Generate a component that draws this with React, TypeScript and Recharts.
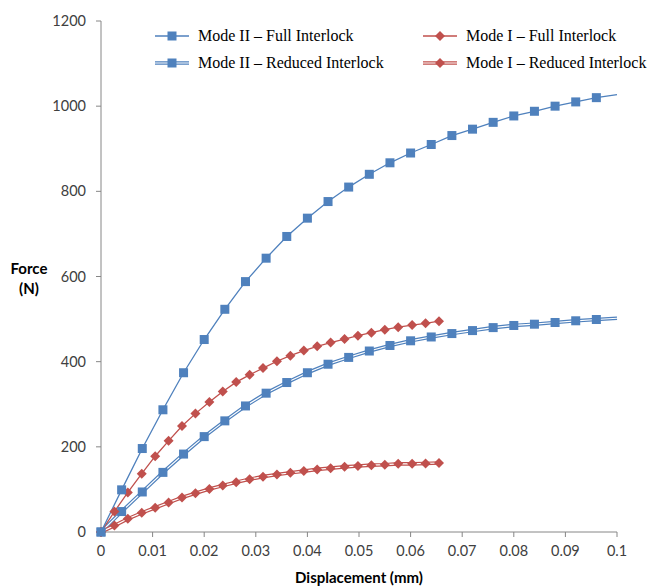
import { LineChart, Line, XAxis, YAxis, Legend } from "recharts";

// x values (mm)
const xMode2 = [
  0, 0.004, 0.008, 0.012, 0.016, 0.02, 0.024, 0.028, 0.032, 0.036, 0.04, 0.044, 0.048,
  0.052, 0.056, 0.06, 0.064, 0.068, 0.072, 0.076, 0.08, 0.084, 0.088, 0.092, 0.096, 0.1,
];
const xMode1 = [
  0, 0.0026, 0.0052, 0.0079, 0.0105, 0.0131, 0.0157, 0.0183, 0.021, 0.0236, 0.0262,
  0.0288, 0.0314, 0.0341, 0.0367, 0.0393, 0.0419, 0.0445, 0.0472, 0.0498, 0.0524, 0.055,
  0.0576, 0.0603, 0.0629, 0.0655,
];

// force (N)
const mode2Full = [
  0, 99, 196, 287, 374, 452, 523, 588, 643, 694, 737, 776, 810, 840, 867, 890, 910, 931,
  946, 962, 977, 988, 1000, 1010, 1020, 1027,
];
const mode2Reduced = [
  0, 48, 94, 140, 183, 224, 261, 296, 326, 351, 374, 394, 410, 425, 438, 449, 458, 466,
  473, 480, 485, 488, 492, 496, 499, 502,
];
const mode1Full = [
  0, 48, 93, 137, 178, 214, 249, 278, 305, 330, 352, 369, 385, 401, 414, 426, 436, 445,
  453, 461, 468, 475, 481, 486, 490, 495,
];
const mode1Reduced = [
  0, 15, 31, 45, 57, 69, 81, 91, 101, 109, 117, 124, 130, 135, 139, 143, 147, 150, 153,
  155, 157, 158, 160, 160, 161, 162,
];

const xTicks = [0, 0.01, 0.02, 0.03, 0.04, 0.05, 0.06, 0.07, 0.08, 0.09, 0.1];
const yTicks = [0, 200, 400, 600, 800, 1000, 1200];

const BLUE = "#4F81BD";
const RED = "#C0504D";
const AXIS = "#868686";
const TICK_FONT = "Lato, 'Open Sans', sans-serif";
const SERIF = "'Liberation Serif', 'DejaVu Serif', serif";

const toRows = (xs: number[], ys: number[]) => xs.map((x, i) => ({ x, y: ys[i] }));

const m2Full = toRows(xMode2, mode2Full);
const m2Red = toRows(xMode2, mode2Reduced);
const m1Full = toRows(xMode1, mode1Full);
const m1Red = toRows(xMode1, mode1Reduced);

function Square({ cx, cy, color }: { cx: number; cy: number; color: string }) {
  return <rect x={cx - 4.5} y={cy - 4.5} width={9} height={9} fill={color} />;
}

function Diamond({ cx, cy, color }: { cx: number; cy: number; color: string }) {
  const r = 5;
  return (
    <path d={`M${cx},${cy - r}L${cx + r},${cy}L${cx},${cy + r}L${cx - r},${cy}Z`} fill={color} />
  );
}

// blue series have no marker on the 0.1 end point
const squareDot = (props: any) => {
  const { cx, cy, index, payload } = props;
  if (cx == null || cy == null || payload.x >= 0.1) return <g key={index} />;
  return <Square key={index} cx={cx} cy={cy} color={BLUE} />;
};
const diamondDot = (props: any) => {
  const { cx, cy, index } = props;
  if (cx == null || cy == null) return <g key={index} />;
  return <Diamond key={index} cx={cx} cy={cy} color={RED} />;
};

function LegendIcon({ x, y, color, double, square }: any) {
  return (
    <g>
      {double ? (
        <>
          <line x1={x} x2={x + 34} y1={y} y2={y} stroke={color} strokeWidth={3.6} />
          <line x1={x} x2={x + 34} y1={y} y2={y} stroke="#fff" strokeWidth={1.2} />
        </>
      ) : (
        <line x1={x} x2={x + 34} y1={y} y2={y} stroke={color} strokeWidth={1.3} />
      )}
      {square ? (
        <Square cx={x + 17} cy={y} color={color} />
      ) : (
        <Diamond cx={x + 17} cy={y} color={color} />
      )}
    </g>
  );
}

function renderLegend() {
  const items = [
    { x: 155, y: 36, color: BLUE, double: false, square: true, label: "Mode II – Full Interlock" },
    { x: 155, y: 63, color: BLUE, double: true, square: true, label: "Mode II – Reduced Interlock" },
    { x: 423, y: 36, color: RED, double: false, square: false, label: "Mode I – Full Interlock" },
    { x: 423, y: 63, color: RED, double: true, square: false, label: "Mode I – Reduced Interlock" },
  ];
  return (
    <svg width={647} height={80} style={{ display: "block" }}>
      {items.map((it) => (
        <g key={it.label}>
          <LegendIcon {...it} />
          <text x={it.x + 43} y={it.y + 5} fontFamily={SERIF} fontSize={16} fill="#000">
            {it.label}
          </text>
        </g>
      ))}
    </svg>
  );
}

function ForceLabel(props: any) {
  const { viewBox } = props;
  const cy = viewBox.y + viewBox.height / 2;
  return (
    <text x={29} y={cy} textAnchor="middle" fontFamily={TICK_FONT} fontWeight={700} fontSize={15} fill="#000">
      <tspan x={29} dy={-3}>Force</tspan>
      <tspan x={29} dy={20}>(N)</tspan>
    </text>
  );
}

export default function App() {
  return (
    <div style={{ position: "absolute", left: 0, top: 0, background: "#fff" }}>
      <LineChart width={647} height={586} margin={{ top: 21, right: 30, bottom: 0, left: 0 }}>
        <XAxis
          type="number"
          dataKey="x"
          domain={[0, 0.1]}
          ticks={xTicks}
          allowDuplicatedCategory={false}
          stroke={AXIS}
          tickSize={5}
          tickMargin={9}
          height={54}
          tick={{ fill: "#404040", fontSize: 14.5, fontFamily: TICK_FONT }}
          label={{
            value: "Displacement (mm)",
            position: "insideBottom",
            offset: 3,
            fill: "#000",
            fontSize: 15,
            fontWeight: 700,
            fontFamily: TICK_FONT,
          }}
        />
        <YAxis
          type="number"
          domain={[0, 1200]}
          ticks={yTicks}
          stroke={AXIS}
          tickSize={5}
          tickMargin={10}
          width={101}
          tick={{ fill: "#404040", fontSize: 14.5, fontFamily: TICK_FONT }}
          label={<ForceLabel />}
        />
        <Legend
          layout="horizontal"
          verticalAlign="middle"
          align="center"
          wrapperStyle={{ position: "absolute", left: 0, top: 0, width: 647, height: 80 }}
          content={renderLegend}
        />
        {/* Mode II – Reduced: double line */}
        <Line data={m2Red} dataKey="y" stroke={BLUE} strokeWidth={3.6} dot={false} isAnimationActive={false} legendType="none" />
        <Line data={m2Red} dataKey="y" stroke="#fff" strokeWidth={1.2} dot={squareDot} isAnimationActive={false} legendType="none" />
        {/* Mode I – Reduced: double line */}
        <Line data={m1Red} dataKey="y" stroke={RED} strokeWidth={3.6} dot={false} isAnimationActive={false} legendType="none" />
        <Line data={m1Red} dataKey="y" stroke="#fff" strokeWidth={1.2} dot={diamondDot} isAnimationActive={false} legendType="none" />
        <Line data={m1Full} dataKey="y" stroke={RED} strokeWidth={1.3} dot={diamondDot} isAnimationActive={false} />
        <Line data={m2Full} dataKey="y" stroke={BLUE} strokeWidth={1.3} dot={squareDot} isAnimationActive={false} />
      </LineChart>
    </div>
  );
}
